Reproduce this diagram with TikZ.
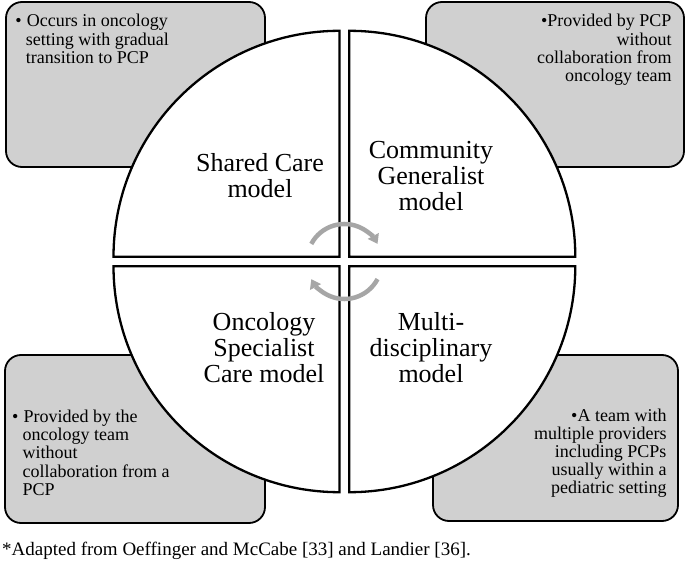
\documentclass[tikz,border=0pt]{standalone}
\usepackage{fontspec}
\setmainfont{Liberation Serif}
\usetikzlibrary{arrows.meta}
\definecolor{boxgray}{RGB}{208,208,208}
\definecolor{arrowgray}{RGB}{166,166,166}
\newcommand{\mybul}{\makebox[11.5pt][l]{\textbullet}}
\newcommand{\myind}{\hspace*{10.5pt}}
\tikzset{
  infobox/.style={draw=black, line width=1.8pt, fill=boxgray, rounded corners=16pt},
  sector/.style={draw=black, line width=2.3pt, fill=white, line join=miter},
  boxtextL/.style={inner sep=0pt, anchor=base west, font=\fontsize{18}{18.2}\selectfont},
  boxtextR/.style={inner sep=0pt, anchor=base east, font=\fontsize{18}{18.2}\selectfont},
  sectortext/.style={inner sep=0pt, anchor=base, font=\fontsize{26}{25.5}\selectfont},
  cyclearrow/.style={draw=arrowgray, line width=4.5pt, -{Triangle[length=9pt,width=12pt]}},
  notetext/.style={inner sep=0pt, anchor=base west, font=\fontsize{19}{22}\selectfont}
}
\begin{document}
\begin{tikzpicture}[x=1pt,y=1pt]
\useasboundingbox (0,0) rectangle (685,566);
% corner boxes
\path[infobox] (6,399) rectangle (265,564);
\path[infobox] (426,399) rectangle (684,564);
\path[infobox] (5,43) rectangle (265,211);
\path[infobox] (433,45) rectangle (678,211);
% box texts
\node[boxtextL] (tltext) at (15.2,539) {\begin{tabular}[t]{@{}l@{}}\mybul Occurs in oncology\\\myind setting with gradual\\\myind transition to PCP\end{tabular}};
\node[boxtextR] (trtext) at (671.7,539) {\begin{tabular}[t]{@{}r@{}}\textbullet Provided by PCP\\without\\collaboration from\\oncology team\end{tabular}};
\node[boxtextL] (bltext) at (11.9,143.5) {\begin{tabular}[t]{@{}l@{}}\mybul Provided by the\\\myind oncology team\\\myind without\\\myind collaboration from a\\\myind PCP\end{tabular}};
\node[boxtextR] (brtext) at (666.7,145) {\begin{tabular}[t]{@{}r@{}}\textbullet A team with\\multiple providers\\including PCPs\\usually within a\\pediatric setting\end{tabular}};
% sectors
\coordinate (C) at (344.4,304.5);
\path[sector] (339.5,309.2) -- ++(-226,0) arc[start angle=180, end angle=90, radius=226] -- cycle;
\path[sector] (349.3,309.2) -- ++(0,226) arc[start angle=90, end angle=0, radius=226] -- cycle;
\path[sector] (339.5,299.8) -- ++(-226,0) arc[start angle=180, end angle=270, radius=226] -- cycle;
\path[sector] (349.3,299.8) -- ++(226,0) arc[start angle=0, end angle=-90, radius=226] -- cycle;
% sector labels
\node[sectortext] (shared) at (260,394.3) {\begin{tabular}[t]{@{}c@{}}Shared Care\\model\end{tabular}};
\node[sectortext] (community) at (431,407.3) {\begin{tabular}[t]{@{}c@{}}Community\\Generalist\\model\end{tabular}};
\node[sectortext] (oncology) at (264,235.3) {\begin{tabular}[t]{@{}c@{}}Oncology\\Specialist\\Care model\end{tabular}};
\node[sectortext] (multi) at (431,235.3) {\begin{tabular}[t]{@{}c@{}}Multi-\\disciplinary\\model\end{tabular}};
% cycle arrows
\draw[cyclearrow] ([shift={(152:37.5)}]C) arc[start angle=152, end angle=28, radius=37.5];
\draw[cyclearrow] ([shift={(-28:37.5)}]C) arc[start angle=-28, end angle=-152, radius=37.5];
% note
\node[notetext] (note) at (2,11) {*Adapted from Oeffinger and McCabe [33] and Landier [36].};
\end{tikzpicture}
\end{document}
